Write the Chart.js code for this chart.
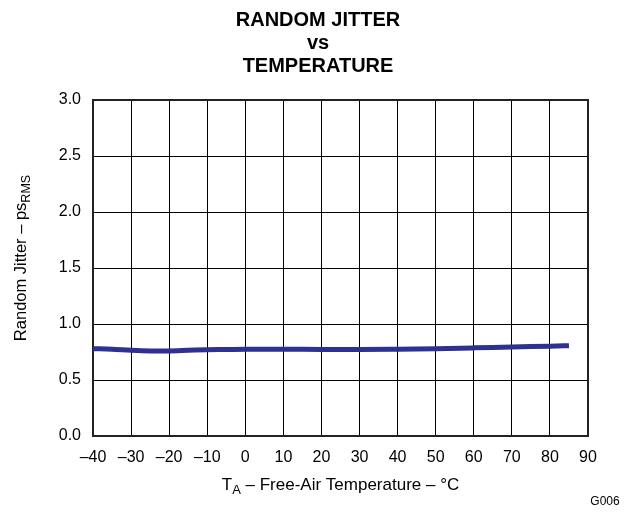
<!DOCTYPE html>
<html>
<head>
<meta charset="utf-8">
<script src="https://cdn.jsdelivr.net/npm/chart.js@4.4.1/dist/chart.umd.min.js"></script>
<style>
  body { margin: 0; background: #fff; }
  canvas { display: block; }
</style>
</head>
<body>
<canvas id="myChart" width="631" height="512"></canvas>
<script>
// readings
const temps = [-40, -35, -30, -25, -20, -15, -10, -5, 0, 10, 20, 30, 40, 50, 60, 70, 80, 85]
const jitter = [0.78, 0.775, 0.765, 0.76, 0.76, 0.765, 0.77, 0.772, 0.775, 0.775, 0.772, 0.772, 0.775, 0.78, 0.787, 0.795, 0.802, 0.806]
const titleLines = ['RANDOM JITTER', 'vs', 'TEMPERATURE']
const xTicks = { min: -40, max: 90, step: 10 }
const yTicks = { min: 0, max: 3, step: 0.5 }

const FONT = '"Liberation Sans", Arial, sans-serif'

const points = temps.map((t, i) => ({ x: t, y: jitter[i] }))

// text with one subscript part, centred on 0
function subText(ctx, main, sub, tail, size, subSize) {
  ctx.font = size + 'px ' + FONT
  const w1 = ctx.measureText(main).width
  const w3 = ctx.measureText(tail).width
  ctx.font = subSize + 'px ' + FONT
  const w2 = ctx.measureText(sub).width
  let x = -(w1 + w2 + w3) / 2
  ctx.font = size + 'px ' + FONT
  ctx.fillText(main, x, 0)
  ctx.font = subSize + 'px ' + FONT
  ctx.fillText(sub, x + w1, 4)
  ctx.font = size + 'px ' + FONT
  ctx.fillText(tail, x + w1 + w2, 0)
}

// titles, axis names with subscripts, frame
const decor = {
  id: 'decor',
  beforeDatasetsDraw(chart) {
    const ctx = chart.ctx
    const a = chart.chartArea
    ctx.save()
    ctx.strokeStyle = '#222'
    ctx.lineWidth = 2
    ctx.strokeRect(a.left, a.top, a.right - a.left, a.bottom - a.top)
    ctx.restore()
  },
  afterDraw(chart) {
    const ctx = chart.ctx
    const a = chart.chartArea
    ctx.save()
    ctx.fillStyle = '#000'
    ctx.textAlign = 'center'
    ctx.textBaseline = 'middle'
    ctx.font = 'bold 20px ' + FONT
    const ys = [20, 43, 66]
    titleLines.forEach((l, i) => ctx.fillText(l, 318, ys[i]))

    ctx.textAlign = 'left'
    ctx.textBaseline = 'alphabetic'

    // x title
    ctx.save()
    ctx.translate((a.left + a.right) / 2, 490)
    subText(ctx, 'T', 'A', ' – Free-Air Temperature – °C', 17, 13)
    ctx.restore()

    // y title
    ctx.save()
    ctx.translate(26, 258)
    ctx.rotate(-Math.PI / 2)
    subText(ctx, 'Random Jitter – ps', 'RMS', '', 16.5, 12.5)
    ctx.restore()

    ctx.font = '12px ' + FONT
    ctx.textAlign = 'center'
    ctx.fillText('G006', 605, 505)
    ctx.restore()
  }
}

const data = {
  datasets: [{
    data: points,
    borderColor: '#2e3192',
    backgroundColor: '#2e3192',
    borderWidth: 5,
    pointRadius: 0,
    tension: 0.4,
    cubicInterpolationMode: 'monotone',
    fill: false
  }]
}

const config = {
  type: 'line',
  data: data,
  options: {
    responsive: false,
    animation: false,
    layout: { padding: { left: 0, right: 43, top: 100, bottom: 0 } },
    plugins: { legend: { display: false }, tooltip: { enabled: false }, title: { display: false } },
    scales: {
      x: {
        type: 'linear',
        min: xTicks.min,
        max: xTicks.max,
        grid: { color: '#000', lineWidth: 1, drawTicks: false },
        border: { display: false },
        ticks: {
          stepSize: xTicks.step,
          padding: 12,
          color: '#000',
          font: { family: FONT, size: 16 },
          maxRotation: 0,
          callback: v => String(v).replace('-', '–')
        },
        afterFit: s => { s.height = 76 }
      },
      y: {
        min: yTicks.min,
        max: yTicks.max,
        grid: { color: '#000', lineWidth: 1, drawTicks: false },
        border: { display: false },
        ticks: {
          stepSize: yTicks.step,
          padding: 12,
          color: '#000',
          font: { family: FONT, size: 16 },
          callback: v => v.toFixed(1)
        },
        afterFit: s => { s.width = 93 }
      }
    }
  },
  plugins: [decor]
}

const myChart = new Chart(document.getElementById('myChart'), config)
</script>
</body>
</html>
